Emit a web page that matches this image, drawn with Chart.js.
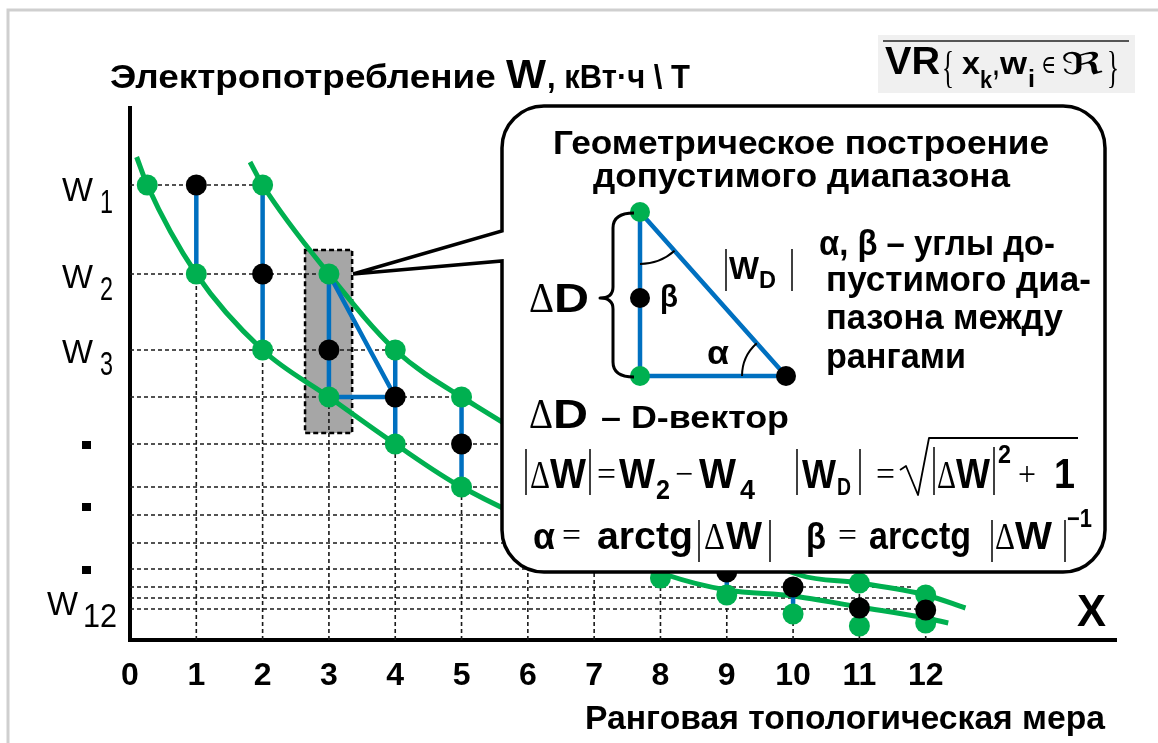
<!DOCTYPE html>
<html>
<head>
<meta charset="utf-8">
<script src="https://cdn.jsdelivr.net/npm/chart.js@4.4.1/dist/chart.umd.min.js"></script>
<style>
  html, body { margin: 0; padding: 0; background: #fff; }
  #wrap { width: 1158px; height: 743px; position: relative; }
</style>
</head>
<body>
<div id="wrap"><canvas id="rankChart" width="1158" height="743"></canvas></div>
<script>
// x axis: rank topological measure
const xTicks = [0, 1, 2, 3, 4, 5, 6, 7, 8, 9, 10, 11, 12];

// W levels (dashed rows), top to bottom, and where each row stops on x
const rowW   = [45.5, 36.6, 29.0, 24.3, 19.6, 15.3, 12.5, 9.7, 7.1, 5.3, 4.2, 3.1];
const rowEnd = [2, 3, 4, 5, 6, 6, 6, 6, 8, 11.8, 11.8, 12];

// vertical dashed drops at each rank
const colX   = [1, 2, 3, 4, 5, 6, 7, 8, 9, 10, 11, 12];
const colTop = [45.5, 45.5, 36.6, 29.0, 24.3, 8, 8, 6.2, 6.8, 5.3, 5.7, 4.5];

// the two green boundary curves
const upperX = [1.81, 2, 3, 4, 5, 10.1, 11, 12, 12.6];
const upperW = [47.8, 45.5, 36.6, 29.0, 24.3, 6.5, 5.7, 4.5, 3.2];
const lowerX = [0.1, 0.26, 1, 2, 3, 4, 5, 8.1, 9, 10, 11, 12, 12.34];
const lowerW = [48.3, 45.5, 36.6, 29.0, 24.3, 19.6, 15.3, 6.5, 5.0, 4.4, 3.3, 2.2, 1.7];

// measured values (black) and range bounds (green)
const blackX   = [1, 2, 3, 4, 5, 9, 10, 11, 12];
const blackW   = [45.5, 36.6, 29.0, 24.3, 19.6, 6.8, 5.3, 3.2, 3.0];
const greenUpX = [2, 3, 4, 5, 11, 12];
const greenUpW = [45.5, 36.6, 29.0, 24.3, 5.7, 4.5];
const greenLoX = [0.26, 1, 2, 3, 4, 5, 8, 9, 10, 11, 12];
const greenLoW = [45.5, 36.6, 29.0, 24.3, 19.6, 15.3, 6.2, 4.5, 2.6, 1.4, 1.7];

// blue admissible-range segments
const blueX  = [1, 2, 3, 4, 5, 9, 10];
const blueHi = [45.5, 45.5, 36.6, 29.0, 24.3, 6.8, 5.3];
const blueLo = [36.6, 29.0, 24.3, 19.6, 15.3, 4.5, 2.6];
// D-vector triangle at rank 3
const triX = [3, 4, 3];
const triW = [36.6, 24.3, 24.3];

// highlighted zone around rank 3
const zoneX = [2.64, 3.35];
const zoneW = [39.0, 20.7];

// y labels
const yLabSub = ['1', '2', '3', '12'];
const yLabRow = [0, 1, 2, 11];
const yDots   = [19.5, 13.3, 7.0];

const SANS  = '"Liberation Sans", Arial, sans-serif';
const SERIF = '"Liberation Serif", "Times New Roman", serif';
const GREEN = '#00b050';
const BLUE  = '#0070c0';

const pts = (xs, ys) => xs.map((x, i) => ({ x: x, y: ys[i] }));
function segs(xs, a, b) {
  const out = [];
  xs.forEach((x, i) => out.push({ x: x, y: a[i] }, { x: x, y: b[i] }, { x: x, y: null }));
  return out;
}
function dropLines() {
  const out = [];
  rowW.forEach((w, i) => out.push({ x: 0, y: w }, { x: rowEnd[i], y: w }, { x: 0, y: null }));
  colX.forEach((x, i) => out.push({ x: x, y: 0 }, { x: x, y: colTop[i] }, { x: x, y: null }));
  return out;
}

// text helper: draws s with its left edge at x (or right/centre), squeezed to width w if given
function txt(ctx, s, x, y, size, weight, w, family, align) {
  ctx.font = (weight || 'normal') + ' ' + size + 'px ' + (family || SANS);
  ctx.textAlign = 'left';
  ctx.textBaseline = 'alphabetic';
  const m = ctx.measureText(s).width;
  const sx = w ? w / m : 1;
  let x0 = x;
  if (align === 'right') x0 = x - m * sx;
  if (align === 'center') x0 = x - m * sx / 2;
  ctx.save();
  ctx.translate(x0, y);
  ctx.scale(sx, 1);
  ctx.fillText(s, 0, 0);
  ctx.restore();
  return x0 + m * sx;
}
function bar(ctx, x, y1, y2) {
  ctx.beginPath(); ctx.moveTo(x, y1); ctx.lineTo(x, y2); ctx.stroke();
}

const zonePlugin = {
  id: 'zone',
  beforeDatasetsDraw(chart) {
    const { ctx, scales: { x, y } } = chart;
    const x1 = x.getPixelForValue(zoneX[0]), x2 = x.getPixelForValue(zoneX[1]);
    const y1 = y.getPixelForValue(zoneW[0]), y2 = y.getPixelForValue(zoneW[1]);
    ctx.save();
    ctx.fillStyle = '#a6a6a6';
    ctx.fillRect(x1, y1, x2 - x1, y2 - y1);
    ctx.setLineDash([5, 3]);
    ctx.lineWidth = 2.5;
    ctx.strokeStyle = '#000';
    ctx.strokeRect(x1, y1, x2 - x1, y2 - y1);
    ctx.restore();
  }
};

const insetPlugin = {
  id: 'inset',
  afterDatasetsDraw(chart) {
    const { ctx, scales: { x, y } } = chart;
    const tipX = x.getPixelForValue(zoneX[1]) + 1, tipY = y.getPixelForValue(rowW[1]);
    const L = 502, T = 106, R = 1105, B = 572, r = 42;
    ctx.save();
    ctx.beginPath();
    ctx.moveTo(L, T + r);
    ctx.arcTo(L, T, L + r, T, r);
    ctx.lineTo(R - r, T); ctx.arcTo(R, T, R, T + r, r);
    ctx.lineTo(R, B - r); ctx.arcTo(R, B, R - r, B, r);
    ctx.lineTo(L + r, B); ctx.arcTo(L, B, L, B - r, r);
    ctx.lineTo(L, 261);
    ctx.lineTo(tipX, tipY);
    ctx.lineTo(L, 231);
    ctx.closePath();
    ctx.fillStyle = '#fff';
    ctx.fill();
    ctx.lineWidth = 3.5;
    ctx.strokeStyle = '#000';
    ctx.lineJoin = 'miter';
    ctx.stroke();

    ctx.fillStyle = '#000';
    txt(ctx, 'Геометрическое построение', 553, 154, 34, 'bold', 496);
    txt(ctx, 'допустимого диапазона', 593, 187, 34, 'bold', 417);

    // triangle
    const A = [640, 212], Bp = [640, 376], C = [786, 376], M = [640, 298];
    ctx.strokeStyle = BLUE; ctx.lineWidth = 4.5; ctx.lineJoin = 'round';
    ctx.beginPath(); ctx.moveTo(A[0], A[1]); ctx.lineTo(Bp[0], Bp[1]); ctx.lineTo(C[0], C[1]); ctx.closePath(); ctx.stroke();
    const ang = Math.atan2(C[1] - A[1], C[0] - A[0]);
    ctx.strokeStyle = '#000'; ctx.lineWidth = 2;
    ctx.beginPath(); ctx.arc(A[0], A[1], 52, ang, Math.PI / 2); ctx.stroke();
    ctx.beginPath(); ctx.arc(C[0], C[1], 44, Math.PI, Math.PI + ang); ctx.stroke();
    const dot = (p, c) => { ctx.fillStyle = c; ctx.beginPath(); ctx.arc(p[0], p[1], 10, 0, Math.PI * 2); ctx.fill(); };
    dot(A, GREEN); dot(Bp, GREEN); dot(C, '#000'); dot(M, '#000');

    // brace
    ctx.strokeStyle = '#000'; ctx.lineWidth = 3;
    ctx.beginPath();
    ctx.moveTo(634, 213);
    ctx.quadraticCurveTo(613, 213, 613, 228);
    ctx.lineTo(613, 287);
    ctx.quadraticCurveTo(613, 298, 600, 298);
    ctx.quadraticCurveTo(613, 298, 613, 309);
    ctx.lineTo(613, 362);
    ctx.quadraticCurveTo(613, 377, 634, 377);
    ctx.stroke();

    ctx.fillStyle = '#000';
    let e = txt(ctx, 'Δ', 529, 312, 42, 'normal', 25, SERIF);
    txt(ctx, 'D', e, 312, 40, 'bold', 35);
    txt(ctx, 'β', 660, 307, 32, 'bold', 18);
    txt(ctx, 'α', 707, 364, 33, 'bold', 22);

    // |W_D|
    ctx.lineWidth = 1.5;
    bar(ctx, 726, 249, 291); bar(ctx, 792, 249, 291);
    txt(ctx, 'W', 729, 279, 32, 'bold', 30);
    txt(ctx, 'D', 759, 288, 24, 'bold', 17);

    // right-hand note
    txt(ctx, 'α, β – углы до-', 819, 255, 35, 'bold', 236);
    txt(ctx, 'пустимого диа-', 826, 291, 35, 'bold', 265);
    txt(ctx, 'пазона между', 826, 329, 35, 'bold', 237);
    txt(ctx, 'рангами', 826, 368, 35, 'bold', 140);

    // ΔD – D-вектор
    e = txt(ctx, 'Δ', 529, 428, 42, 'normal', 24, SERIF);
    txt(ctx, 'D', e, 428, 40, 'bold', 35);
    txt(ctx, '– D-вектор', 601, 428, 32, 'bold', 188);

    // |ΔW| = W2 − W4   |W_D| = sqrt(|ΔW|^2 + 1)
    const b1 = 488;
    ctx.lineWidth = 1.5;
    bar(ctx, 526, 449, 495);
    txt(ctx, 'Δ', 530, b1, 40, 'normal', 20, SERIF);
    txt(ctx, 'W', 550, b1, 42, 'bold', 36);
    bar(ctx, 590, 449, 495);
    txt(ctx, '=', 597, b1 - 3, 34, 'normal', 19, SERIF);
    txt(ctx, 'W', 619, b1, 42, 'bold', 36);
    txt(ctx, '2', 656, 499, 27, 'bold', 14);
    txt(ctx, '−', 675, b1 - 3, 34, 'normal', 18, SERIF);
    txt(ctx, 'W', 699, b1, 42, 'bold', 37);
    txt(ctx, '4', 740, 499, 27, 'bold', 15);
    bar(ctx, 797, 449, 495);
    txt(ctx, 'W', 802, b1, 40, 'bold', 34);
    txt(ctx, 'D', 837, 495, 23, 'bold', 14);
    bar(ctx, 860, 449, 495);
    txt(ctx, '=', 876, b1 - 3, 34, 'normal', 19, SERIF);
    ctx.lineWidth = 1.8;
    ctx.beginPath();
    ctx.moveTo(900, 470); ctx.lineTo(906, 466); ctx.lineTo(918, 495); ctx.lineTo(929, 438); ctx.lineTo(1078, 438);
    ctx.stroke();
    ctx.lineWidth = 1.5;
    bar(ctx, 934, 447, 495);
    txt(ctx, 'Δ', 937, b1, 40, 'normal', 19, SERIF);
    txt(ctx, 'W', 956, b1, 42, 'bold', 34);
    bar(ctx, 994, 447, 495);
    txt(ctx, '2', 998, 463, 25, 'bold', 13);
    txt(ctx, '+', 1018, b1 - 3, 34, 'normal', 18, SERIF);
    txt(ctx, '1', 1054, b1, 42, 'bold', 21);

    // α = arctg|ΔW|   β = arcctg |ΔW|^-1
    const b2 = 549;
    txt(ctx, 'α', 533, b2, 36, 'bold', 22);
    txt(ctx, '=', 562, b2 - 3, 34, 'normal', 19, SERIF);
    txt(ctx, 'arctg', 597, b2, 38, 'bold', 96);
    bar(ctx, 699, 520, 562);
    txt(ctx, 'Δ', 704, b2, 38, 'normal', 21, SERIF);
    txt(ctx, 'W', 726, b2, 38, 'bold', 36);
    bar(ctx, 770, 520, 562);
    txt(ctx, 'β', 806, b2, 36, 'bold', 20);
    txt(ctx, '=', 838, b2 - 3, 34, 'normal', 19, SERIF);
    txt(ctx, 'arcctg', 869, b2, 38, 'bold', 102);
    bar(ctx, 992, 520, 562);
    txt(ctx, 'Δ', 995, b2, 38, 'normal', 20, SERIF);
    txt(ctx, 'W', 1015, b2, 38, 'bold', 37);
    bar(ctx, 1065, 520, 562);
    txt(ctx, '−1', 1067, 527, 25, 'bold', 25);
    ctx.restore();
  },
  afterDraw(chart) {
    const { ctx, scales: { y } } = chart;
    ctx.save();
    ctx.fillStyle = '#000';

    // frame of the slide
    ctx.strokeStyle = '#cfcfcf'; ctx.lineWidth = 3;
    ctx.beginPath(); ctx.moveTo(8, 743); ctx.lineTo(8, 10); ctx.lineTo(1158, 10); ctx.stroke();

    // axis titles
    let e = txt(ctx, 'Электропотребление ', 110, 88, 33, 'bold', 396);
    e = txt(ctx, 'W', e, 88, 40, 'bold', 40);
    txt(ctx, ', кВт·ч \\ Т', e + 1, 88, 33, 'bold', 143);
    txt(ctx, 'Ранговая топологическая мера', 585, 729, 34, 'bold', 520);
    txt(ctx, 'X', 1077, 626, 44, 'bold', 29);

    // y labels W1, W2, W3, W12
    const dy = [16, 14, 13, 6];
    yLabRow.forEach((ri, i) => {
      const py = y.getPixelForValue(rowW[ri]) + dy[i];
      const two = yLabSub[i].length > 1;
      const sEnd = two ? 117 : 113;
      const sw = two ? 34 : 13;
      const sx = txt(ctx, yLabSub[i], sEnd, py + 12, 34, 'normal', sw, SANS, 'right') - sw;
      txt(ctx, 'W', sx - (two ? 5 : 7), py, 34, 'normal', 31, SANS, 'right');
    });
    yDots.forEach(v => {
      const py = y.getPixelForValue(v);
      ctx.fillRect(82, py - 4, 9, 8);
    });

    // top-right set notation
    ctx.fillStyle = '#f0f0f0';
    ctx.fillRect(878, 35, 257, 58);
    ctx.fillStyle = '#000';
    ctx.strokeStyle = '#222'; ctx.lineWidth = 1.5;
    ctx.beginPath(); ctx.moveTo(883, 41); ctx.lineTo(1129, 41); ctx.stroke();
    txt(ctx, 'VR', 885, 74, 38, 'bold', 55);
    txt(ctx, '{', 942, 82, 44, 'normal', 12, SERIF);
    txt(ctx, 'x', 962, 74, 32, 'bold', 18);
    txt(ctx, 'k', 980, 88, 24, 'bold', 12);
    txt(ctx, ',', 993, 75, 30, 'bold', 6);
    txt(ctx, 'w', 1000, 74, 32, 'bold', 27);
    txt(ctx, 'i', 1028, 87, 24, 'bold', 7);
    txt(ctx, '∈', 1041, 73, 26, 'normal', 15, '"DejaVu Serif", serif');
    txt(ctx, 'ℜ', 1061, 74, 30, 'normal', 42, '"DejaVu Serif", "DejaVu Sans", serif');
    txt(ctx, '}', 1107, 82, 44, 'normal', 12, SERIF);
    ctx.restore();
  }
};

const pointSet = (data, color) => ({
  data: data, showLine: false, pointRadius: 10.5, pointHoverRadius: 10.5,
  pointBackgroundColor: color, pointBorderWidth: 0, borderColor: color
});
const lineSet = (data, color, width, extra) => Object.assign({
  data: data, showLine: true, pointRadius: 0, pointHoverRadius: 0,
  borderColor: color, borderWidth: width, spanGaps: false, fill: false
}, extra || {});

new Chart(document.getElementById('rankChart'), {
  type: 'scatter',
  data: {
    datasets: [
      pointSet(pts(blackX, blackW), '#000'),
      pointSet(pts(greenUpX, greenUpW), GREEN),
      pointSet(pts(greenLoX, greenLoW), GREEN),
      lineSet(segs(blueX, blueHi, blueLo), BLUE, 4.5),
      lineSet(pts(triX, triW), BLUE, 4.5),
      lineSet(pts(upperX, upperW), GREEN, 5, { cubicInterpolationMode: 'monotone' }),
      lineSet(pts(lowerX, lowerW), GREEN, 5, { cubicInterpolationMode: 'monotone' }),
      lineSet(dropLines(), '#1a1a1a', 1.6, { borderDash: [4, 3] })
    ]
  },
  options: {
    responsive: false,
    animation: false,
    events: [],
    layout: { padding: { left: 130, top: 108, right: 42, bottom: 0 } },
    plugins: { legend: { display: false }, tooltip: { enabled: false } },
    scales: {
      x: {
        type: 'linear', min: 0, max: 14.87,
        afterFit: s => { s.height = 103; },
        afterBuildTicks: s => { s.ticks = xTicks.map(v => ({ value: v })); },
        grid: { display: false },
        border: { display: true, color: '#000', width: 4 },
        ticks: {
          autoSkip: false, maxRotation: 0, padding: 9, color: '#000',
          font: { family: 'Liberation Sans', size: 32, weight: 'bold' }
        }
      },
      y: {
        type: 'linear', min: 0, max: 53.2,
        afterFit: s => { s.width = 0; },
        grid: { display: false },
        border: { display: true, color: '#000', width: 4 },
        ticks: { display: false }
      }
    }
  },
  plugins: [zonePlugin, insetPlugin]
});
</script>
</body>
</html>
